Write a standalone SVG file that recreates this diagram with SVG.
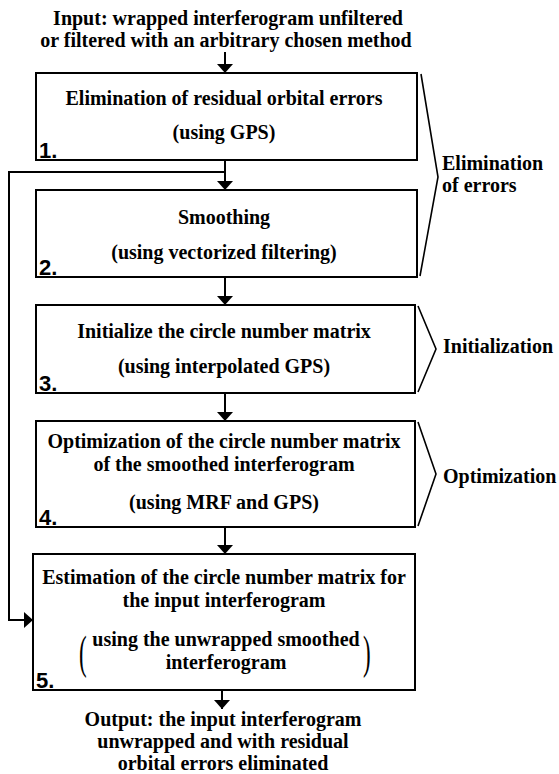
<svg xmlns="http://www.w3.org/2000/svg" width="559" height="774" viewBox="0 0 559 774">
<defs>
<style>
.box{fill:#fff;stroke:#000;stroke-width:2}
.t{font-family:'Liberation Serif','DejaVu Serif','Times New Roman',serif;font-weight:700;font-size:20px;fill:#000;text-anchor:middle}
.l{font-family:'Liberation Serif','DejaVu Serif','Times New Roman',serif;font-weight:700;font-size:20px;fill:#000}
.n{font-family:'Liberation Sans',Arial,sans-serif;font-weight:700;font-size:22px;fill:#000}
.p{font-family:'Liberation Serif','DejaVu Serif','Times New Roman',serif;font-weight:400;font-size:46px;fill:#000}
.c{fill:none;stroke:#000;stroke-width:2}
.b{fill:none;stroke:#000;stroke-width:1.6}
</style>
<marker id="ah" viewBox="0 0 9 16" refX="9" refY="8" markerWidth="9" markerHeight="16" markerUnits="userSpaceOnUse" orient="auto">
<path d="M0,0 L9,8 L0,16 Z" fill="#000"/>
</marker>
</defs>
<rect width="559" height="774" fill="#fff"/>

<g id="input">
<text class="t" x="228" y="25">Input: wrapped interferogram unfiltered</text>
<text class="t" x="226" y="47">or filtered with an arbitrary chosen method</text>
</g>

<g id="connectors">
<line class="c" x1="225" y1="52" x2="225" y2="73" marker-end="url(#ah)"/>
<line class="c" x1="225" y1="160" x2="225" y2="190" marker-end="url(#ah)"/>
<line class="c" x1="225" y1="277" x2="225" y2="305" marker-end="url(#ah)"/>
<line class="c" x1="225" y1="393" x2="225" y2="421" marker-end="url(#ah)"/>
<line class="c" x1="225" y1="527" x2="225" y2="554" marker-end="url(#ah)"/>
<line class="c" x1="222" y1="690" x2="222" y2="709" marker-end="url(#ah)"/>
<polyline class="c" points="225,172 9,172 9,620 33,620" marker-end="url(#ah)"/>
</g>

<g id="node1">
<rect class="box" x="36" y="73" width="381" height="87"/>
<text class="t" x="224" y="105">Elimination of residual orbital errors</text>
<text class="t" x="224" y="139">(using GPS)</text>
<text class="n" x="39" y="158">1.</text>
</g>

<g id="node2">
<rect class="box" x="36" y="190" width="381" height="87"/>
<text class="t" x="224" y="224">Smoothing</text>
<text class="t" x="224" y="259">(using vectorized filtering)</text>
<text class="n" x="39" y="275">2.</text>
</g>

<g id="node3">
<rect class="box" x="36" y="305" width="379" height="88"/>
<text class="t" x="224" y="338">Initialize the circle number matrix</text>
<text class="t" x="224" y="373">(using interpolated GPS)</text>
<text class="n" x="39" y="391">3.</text>
</g>

<g id="node4">
<rect class="box" x="36" y="421" width="379" height="106"/>
<text class="t" x="224" y="448">Optimization of the circle number matrix</text>
<text class="t" x="224" y="471">of the smoothed interferogram</text>
<text class="t" x="224" y="509">(using MRF and GPS)</text>
<text class="n" x="39" y="525">4.</text>
</g>

<g id="node5">
<rect class="box" x="33" y="554" width="382" height="136"/>
<text class="t" x="224" y="584">Estimation of the circle number matrix for</text>
<text class="t" x="224" y="607">the input interferogram</text>
<text class="t" x="226" y="646">using the unwrapped smoothed</text>
<text class="t" x="226" y="669">interferogram</text>
<text class="p" x="79" y="668" transform="translate(79,0) scale(0.5,1) translate(-79,0)">(</text>
<text class="p" x="363" y="668" transform="translate(363,0) scale(0.5,1) translate(-363,0)">)</text>
<text class="n" x="36" y="688">5.</text>
</g>

<g id="output">
<text class="t" x="223" y="726">Output: the input interferogram</text>
<text class="t" x="223" y="748">unwrapped and with residual</text>
<text class="t" x="223" y="770">orbital errors eliminated</text>
</g>

<g id="brace-elimination">
<polyline class="b" points="421,74 438,177 420,276"/>
<text class="l" x="442" y="170">Elimination</text>
<text class="l" x="442" y="192">of errors</text>
</g>

<g id="brace-initialization">
<polyline class="b" points="418,306 436,349 418,392"/>
<text class="l" x="443" y="353">Initialization</text>
</g>

<g id="brace-optimization">
<polyline class="b" points="418,422 436,474 418,526"/>
<text class="l" x="443" y="483">Optimization</text>
</g>
</svg>
